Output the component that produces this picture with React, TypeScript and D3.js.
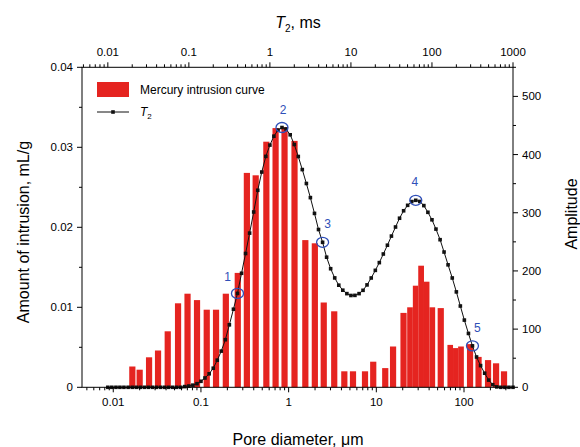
import React from "react";
import * as d3 from "d3";

// Mercury intrusion bars (pore diameter, µm ; amount, mL/g)
const poreDiameter = [
  0.0165, 0.02, 0.0256, 0.0324, 0.0418, 0.0548, 0.0703, 0.0902, 0.1164, 0.1486,
  0.1922, 0.263, 0.334, 0.421, 0.557, 0.71, 0.898, 1.167, 1.55, 1.99,
  2.514, 3.311, 4.316, 5.42, 7.43, 9.22, 12.64, 15.52, 20.43, 24.4,
  27.9, 32.4, 37.7, 43.2, 54.3, 70.2, 80.0, 91.8, 117.2, 146.5,
  188, 232, 286,
];
const intrusion = [
  0.0026, 0.0022, 0.00375, 0.0046, 0.007, 0.0105, 0.0117, 0.0109, 0.0097, 0.0097,
  0.0117, 0.0143, 0.0268, 0.0265, 0.0307, 0.0324, 0.0325, 0.0308, 0.0184, 0.018,
  0.0106, 0.0095, 0.002, 0.002, 0.002, 0.0032, 0.0024, 0.0051, 0.0093, 0.01,
  0.0127, 0.0152, 0.0132, 0.01, 0.0099, 0.0053, 0.0049, 0.0051, 0.0054, 0.0038,
  0.0034, 0.003, 0.002,
];

// NMR T2 spectrum (ms ; amplitude)
const t2 = [
  0.01, 0.0112, 0.0126, 0.0141, 0.0158, 0.0178, 0.02, 0.0224, 0.0251, 0.0282,
  0.0316, 0.0355, 0.0398, 0.0447, 0.0501, 0.0562, 0.0631, 0.0708, 0.0794, 0.0891,
  0.1, 0.112, 0.126, 0.141, 0.158, 0.178, 0.2, 0.224, 0.251, 0.282,
  0.316, 0.355, 0.398, 0.447, 0.501, 0.562, 0.631, 0.708, 0.794, 0.891,
  1, 1.12, 1.26, 1.41, 1.58, 1.78, 2, 2.24, 2.51, 2.82,
  3.16, 3.55, 3.98, 4.47, 5.01, 5.62, 6.31, 7.08, 7.94, 8.91,
  10, 11.2, 12.6, 14.1, 15.8, 17.8, 20, 22.4, 25.1, 28.2,
  31.6, 35.5, 39.8, 44.7, 50.1, 56.2, 63.1, 70.8, 79.4, 89.1,
  100, 112, 126, 141, 158, 178, 200, 224, 251, 282,
  316, 355, 398, 447, 501, 562, 631, 708, 794, 891,
  1000,
];
const amplitude = [
  0, 0, 0, 0, 0, 0, 0, 0, 0, 0,
  0, 0, 0, 0, 0, 0, 0, 0, 0, 1.2,
  2.2, 3.7, 6.2, 10.3, 16, 23.2, 32.8, 46.6, 62.2, 81.8,
  107.4, 134.2, 161.4, 196, 230, 265, 301.3, 338.6, 370, 396.9,
  416.3, 431.6, 442.1, 446.5, 444, 434, 417.3, 396.7, 374.2, 350.3,
  326, 298.9, 271.2, 249.2, 223.6, 203.8, 188, 175.5, 166.9, 161,
  157.8, 158, 161, 166.7, 176, 187.9, 201, 214.3, 229.1, 244.2,
  259.9, 275.5, 290.6, 303.4, 312.8, 319.2, 321.4, 319.4, 312.3, 300.8,
  287.9, 271.9, 253.7, 232.5, 210.5, 187.9, 164, 139.7, 115.5, 92.6,
  71.2, 52.1, 37.3, 24.2, 12.4, 4.5, 0.7, 0, 0, 0,
  0,
];

// annotated points on T2 curve (index into t2)
const markedIndex = [32, 43, 53, 76, 90];
const markedLabel = ["1", "2", "3", "4", "5"];

const bottomTicks = [0.01, 0.1, 1, 10, 100];
const topTicks = [0.01, 0.1, 1, 10, 100, 1000];
const leftTicks = [0, 0.01, 0.02, 0.03, 0.04];
const rightTicks = [0, 100, 200, 300, 400, 500];

const W = 580;
const H = 447;
const L = 82;
const R = 513;
const T = 67.3;
const B = 387.3;
const FONT = "'Liberation Sans', Arial, Helvetica, sans-serif";
const RED = "#e52420";
const BLUE = "#2f4fb8";

export default function App() {
  const xB = d3.scaleLog().domain([0.0044, 362]).range([L, R]);
  const xT = d3.scaleLog().domain([0.0048, 1000]).range([L, R]);
  const yL = d3.scaleLinear().domain([0, 0.04]).range([B, T]);
  const yR = d3.scaleLinear().domain([0, 550]).range([B, T]);

  const isPow10 = (v: number) => Math.abs(Math.log10(v) - Math.round(Math.log10(v))) < 1e-6;
  const bMinor = xB.ticks().filter((v) => !isPow10(v));
  const tMinor = xT.ticks().filter((v) => !isPow10(v));
  const lMinor = d3.range(0.005, 0.04, 0.01);
  const rMinor = d3.range(50, 551, 100);

  const cx = poreDiameter.map((d) => xB(d));
  const bars = poreDiameter.map((d, i) => {
    const c = cx[i];
    const half = 3.1;
    let left = c - half;
    let right = c + half;
    if (i > 0) left = Math.max(left, (c + cx[i - 1]) / 2);
    if (i < cx.length - 1) right = Math.min(right, (c + cx[i + 1]) / 2);
    return { x: left, w: right - left, y: yL(intrusion[i]) };
  });

  const line = d3
    .line<number>()
    .x((_, i) => xT(t2[i]))
    .y((a) => yR(a));

  const labelOffsets = [
    [-10, -12],
    [1, -14],
    [5, -14],
    [-1, -14],
    [5, -14],
  ];

  const tickFont = 11.5;

  return (
    <svg
      width={W}
      height={H}
      style={{ position: "absolute", left: 0, top: 0, background: "#fff" }}
      fontFamily={FONT}
    >
      <rect x={0} y={0} width={W} height={H} fill="#fff" />
      {/* bars */}
      {bars.map((b, i) => (
        <rect key={i} x={b.x} y={b.y} width={b.w} height={B - b.y} fill={RED} />
      ))}
      {/* T2 curve */}
      <path d={line(amplitude) || ""} fill="none" stroke="#111" strokeWidth={1} />
      {amplitude.map((a, i) => (
        <rect key={i} x={xT(t2[i]) - 1.8} y={yR(a) - 1.8} width={3.6} height={3.6} fill="#111" />
      ))}
      {/* annotations */}
      {markedIndex.map((idx, k) => {
        const px = xT(t2[idx]);
        const py = yR(amplitude[idx]);
        return (
          <g key={k}>
            <ellipse cx={px} cy={py} rx={6} ry={5} fill="none" stroke={BLUE} strokeWidth={1.3} />
            <text
              x={px + labelOffsets[k][0]}
              y={py + labelOffsets[k][1]}
              fill={BLUE}
              fontSize={12}
              textAnchor="middle"
            >
              {markedLabel[k]}
            </text>
          </g>
        );
      })}
      {/* frame */}
      <rect x={L} y={T} width={R - L} height={B - T} fill="none" stroke="#000" strokeWidth={1} />
      {/* bottom axis */}
      {bottomTicks.map((v) => (
        <g key={"b" + v}>
          <line x1={xB(v)} x2={xB(v)} y1={B} y2={B + 5} stroke="#000" />
          <text x={xB(v)} y={B + 19} fontSize={tickFont} textAnchor="middle">
            {String(v)}
          </text>
        </g>
      ))}
      {bMinor.map((v, i) => (
        <line key={"bm" + i} x1={xB(v)} x2={xB(v)} y1={B} y2={B + 3} stroke="#000" />
      ))}
      {/* top axis */}
      {topTicks.map((v) => (
        <g key={"t" + v}>
          <line x1={xT(v)} x2={xT(v)} y1={T} y2={T - 5} stroke="#000" />
          <text x={xT(v)} y={T - 11} fontSize={tickFont} textAnchor="middle">
            {String(v)}
          </text>
        </g>
      ))}
      {tMinor.map((v, i) => (
        <line key={"tm" + i} x1={xT(v)} x2={xT(v)} y1={T} y2={T - 3} stroke="#000" />
      ))}
      {/* left axis */}
      {leftTicks.map((v) => (
        <g key={"l" + v}>
          <line x1={L} x2={L - 5} y1={yL(v)} y2={yL(v)} stroke="#000" />
          <text x={L - 9} y={yL(v) + 4} fontSize={tickFont} textAnchor="end">
            {String(v)}
          </text>
        </g>
      ))}
      {lMinor.map((v, i) => (
        <line key={"lm" + i} x1={L} x2={L - 3} y1={yL(v)} y2={yL(v)} stroke="#000" />
      ))}
      {/* right axis */}
      {rightTicks.map((v) => (
        <g key={"r" + v}>
          <line x1={R} x2={R + 5} y1={yR(v)} y2={yR(v)} stroke="#000" />
          <text x={R + 9} y={yR(v) + 4} fontSize={tickFont} textAnchor="start">
            {String(v)}
          </text>
        </g>
      ))}
      {rMinor.map((v, i) => (
        <line key={"rm" + i} x1={R} x2={R + 3} y1={yR(v)} y2={yR(v)} stroke="#000" />
      ))}
      {/* titles */}
      <text x={298} y={28} fontSize={16} textAnchor="middle">
        <tspan fontStyle="italic">T</tspan>
        <tspan fontSize={10} dy={4}>2</tspan>
        <tspan dy={-4}>, ms</tspan>
      </text>
      <text x={298} y={445} fontSize={16} textAnchor="middle">
        Pore diameter, μm
      </text>
      <text
        transform={`translate(29,232) rotate(-90)`}
        fontSize={16}
        textAnchor="middle"
      >
        Amount of intrusion, mL/g
      </text>
      <text
        transform={`translate(577,214) rotate(-90)`}
        fontSize={16}
        textAnchor="middle"
      >
        Amplitude
      </text>
      {/* legend */}
      <rect x={97} y={82} width={32} height={15} fill={RED} />
      <text x={140} y={94} fontSize={12}>
        Mercury intrusion curve
      </text>
      <line x1={97} x2={129} y1={112} y2={112} stroke="#111" />
      <rect x={111.2} y={110.2} width={3.6} height={3.6} fill="#111" />
      <text x={140} y={116} fontSize={12}>
        <tspan fontStyle="italic">T</tspan>
        <tspan fontSize={8} dy={3}>2</tspan>
      </text>
    </svg>
  );
}
